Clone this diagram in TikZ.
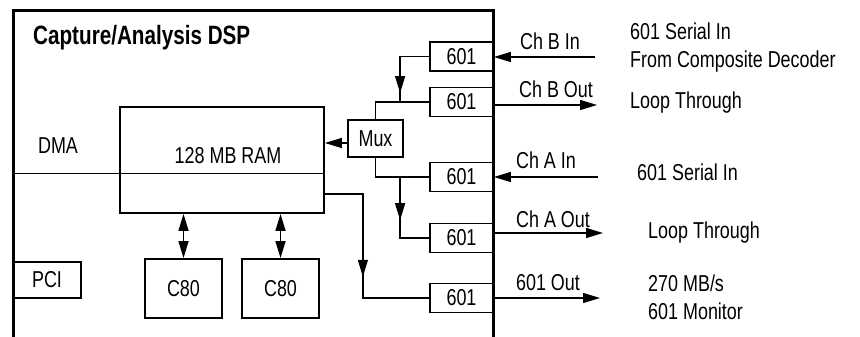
\documentclass[tikz,border=0pt]{standalone}
\usepackage{fontspec}
\setmainfont{Liberation Sans}[FakeStretch=0.78]
\usetikzlibrary{arrows.meta,decorations.markings,calc}
\tikzset{%
	% Style of the outer board
	Frame/.style={line width=3pt},
	% Style of the blocks
	Block/.style={draw=black,line width=1.8pt,inner sep=0},
	% Style of the 601 blocks
	Serial/.style={Block,minimum width=63pt,minimum height=29pt},
	% Style of the texts
	NodeName/.style={inner sep=0,text height=16pt,text depth=0pt},
	ArrowName/.style={NodeName},
	Title/.style={NodeName,anchor=west,text height=18pt,font=\fontsize{26.5}{30}\selectfont\bfseries},
	% Style of the connections
	Connection/.style={line width=1.4pt},
	Thin/.style={line width=0.9pt},
	>={Triangle[length=17pt 0 0,width=10pt 0]},
	MidArrow/.style={decoration={
			markings,
			mark=at position #1 with {\arrow{>}}},
		postaction={decorate}},
	MidArrow/.default=0.50,
}

\begin{document}
\begin{tikzpicture}[x=1pt,y=-1pt,font=\fontsize{23}{27}\selectfont]
\useasboundingbox (0,0) rectangle (860,337);

%~~~~~~~~~~~~~~~~~~~~~~~~~~~~~~~~~~~~~~~~~~~~~~~~~~
% Set Board
%~~~~~~~~~~~~~~~~~~~~~~~~~~~~~~~~~~~~~~~~~~~~~~~~~~
\draw[Frame] (13,337) -- (13,11) -- (493,11) -- (493,337);
\node[Title] (Caption) at (33,36) {Capture/Analysis DSP};

%~~~~~~~~~~~~~~~~~~~~~~~~~~~~~~~~~~~~~~~~~~~~~~~~~~
% Set Blocks
%~~~~~~~~~~~~~~~~~~~~~~~~~~~~~~~~~~~~~~~~~~~~~~~~~~
\node[Block,minimum width=204pt,minimum height=106pt] (RAM) at (222,160) {};
\node[NodeName] (RAMName) at (228,155) {128 MB RAM};

\node[Block,minimum width=55pt,minimum height=37pt] (Mux) at (375.5,138.5) {Mux};

\node[Block,minimum width=77pt,minimum height=59pt] (C1) at (183.5,288.5) {C80};
\node[Block,minimum width=77pt,minimum height=59pt] (C2) at (280.5,288.5) {C80};

\node[Block,minimum width=68pt,minimum height=36pt] (PCI) at (47,280) {PCI};

\node[Serial] (B1) at (461.5,56.5) {601};
\node[Serial] (B2) at (461.5,102) {601};
\node[Serial] (A1) at (461.5,177) {601};
\node[Serial] (A2) at (461.5,238) {601};
\node[Serial] (M) at (461.5,298) {601};

\node[NodeName] (DMA) at (58,145) {DMA};

%~~~~~~~~~~~~~~~~~~~~~~~~~~~~~~~~~~~~~~~~~~~~~~~~~~
% Set Branches
%~~~~~~~~~~~~~~~~~~~~~~~~~~~~~~~~~~~~~~~~~~~~~~~~~~
%Branch from Ch B In to Mux and Ch B Out
\coordinate (JB) at ($(B2.west)+(-29,0)$);
\draw[Connection,MidArrow=0.88] (B1.west) -| (JB);
\draw[Connection] (B2.west) -| (Mux.north);

%Branch from Ch A In to Mux and Ch A Out
\coordinate (JA) at ($(A1.west)+(-29,0)$);
\draw[Connection] (A1.west) -| (Mux.south);
\draw[Connection,MidArrow=0.48] (JA) |- (A2.west);

%Branch from Mux to RAM
\coordinate (MuxOut) at ($(Mux.west)+(0,4.5)$);
\draw[Connection,->] (MuxOut) -- (MuxOut -| RAM.east);

%Branch from RAM to 601 Out
\coordinate (RAMOut) at ($(RAM.east)+(0,34)$);
\draw[Connection,MidArrow=0.58] (RAMOut) -- ++(38,0) |- (M.west);

%Branch from RAM to C80
\draw[Connection,<->] (C1.north) -- (C1.north |- RAM.south);
\draw[Connection,<->] (C2.north) -- (C2.north |- RAM.south);

%DMA bus
\coordinate (DMAIn) at (13,173);
\draw[Thin] (DMAIn) -- (DMAIn -| RAM.east);

%~~~~~~~~~~~~~~~~~~~~~~~~~~~~~~~~~~~~~~~~~~~~~~~~~~
% Set Ports
%~~~~~~~~~~~~~~~~~~~~~~~~~~~~~~~~~~~~~~~~~~~~~~~~~~
\coordinate (BInSrc) at (595,57);
\draw[Connection,->] (BInSrc) -- (BInSrc -| B1.east);
\node[ArrowName] (BInName) at (550,42) {Ch B In};

\coordinate (BOutDst) at (597,105);
\draw[Connection,->] (BOutDst -| B2.east) -- (BOutDst);
\node[ArrowName] (BOutName) at (556,89) {Ch B Out};

\coordinate (AInSrc) at (598,177);
\draw[Connection,->] (AInSrc) -- (AInSrc -| A1.east);
\node[ArrowName] (AInName) at (546,160) {Ch A In};

\coordinate (AOutDst) at (603,233);
\draw[Connection,->] (AOutDst -| A2.east) -- (AOutDst);
\node[ArrowName] (AOutName) at (553,219) {Ch A Out};

\coordinate (MOutDst) at (600,298);
\draw[Connection,->] (MOutDst -| M.east) -- (MOutDst);
\node[ArrowName] (MOutName) at (548,282) {601 Out};

%Notes
\node[NodeName,anchor=west] (NoteB1) at (630,32) {601 Serial In};
\node[NodeName,anchor=west] (NoteB2) at (630,59) {From Composite Decoder};
\node[NodeName,anchor=west] (NoteB3) at (630,101) {Loop Through};
\node[NodeName,anchor=west] (NoteA1) at (637,172) {601 Serial In};
\node[NodeName,anchor=west] (NoteA2) at (648,230) {Loop Through};
\node[NodeName,anchor=west] (NoteM1) at (648,283) {270 MB/s};
\node[NodeName,anchor=west] (NoteM2) at (648,311) {601 Monitor};

\end{tikzpicture}
\end{document}
